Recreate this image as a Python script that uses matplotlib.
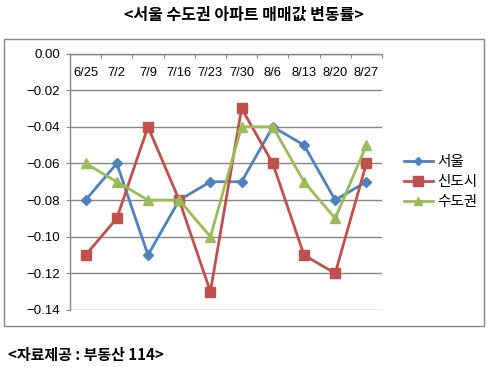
import matplotlib
matplotlib.use("Agg")
import matplotlib.pyplot as plt
from matplotlib.patches import Rectangle
from matplotlib.lines import Line2D

plt.rcParams['font.family'] = ['Noto Sans CJK KR', 'DejaVu Sans']

categories = ["6/25", "7/2", "7/9", "7/16", "7/23", "7/30", "8/6", "8/13", "8/20", "8/27"]
seoul = [-0.08, -0.06, -0.11, -0.08, -0.07, -0.07, -0.04, -0.05, -0.08, -0.07]
newtown = [-0.11, -0.09, -0.04, -0.08, -0.13, -0.03, -0.06, -0.11, -0.12, -0.06]
capital = [-0.06, -0.07, -0.08, -0.08, -0.10, -0.04, -0.04, -0.07, -0.09, -0.05]
series_names = ["서울", "신도시", "수도권"]
yticks = [0.00, -0.02, -0.04, -0.06, -0.08, -0.10, -0.12, -0.14]

colors = ["#4F81BD", "#C0504D", "#9BBB59"]
markers = ["D", "s", "^"]
msizes = [5, 7.5, 7]

W, H = 488, 367
fig = plt.figure(figsize=(W / 100, H / 100), dpi=100)

# outer chart frame
fig.patches.append(Rectangle((4 / W, 1 - 325.5 / H), 480 / W, 286.5 / H,
                             transform=fig.transFigure, fill=False,
                             edgecolor="#868686", linewidth=1.0))

ax = fig.add_axes([70 / W, 1 - 310 / H, 312 / W, 256.5 / H])
x = list(range(len(categories)))
for vals, c, m, ms, name in zip([seoul, newtown, capital], colors, markers, msizes, series_names):
    ax.plot(x, vals, color=c, marker=m, markersize=ms, linewidth=2.0, label=name, zorder=3)

ax.set_xlim(-0.5, len(categories) - 0.5)
ax.set_ylim(-0.14, 0.0)
ax.set_yticks(yticks)
ax.set_yticklabels([f"{v:.2f}".replace("-", "\u2212") if v != 0 else "0.00" for v in yticks],
                   fontsize=9.5, family=['Liberation Sans', 'DejaVu Sans'])
ax.yaxis.grid(True, color="#868686", linewidth=1.0)
ax.set_axisbelow(True)
for s in ["right", "bottom"]:
    ax.spines[s].set_visible(False)
for s in ["left", "top"]:
    ax.spines[s].set_color("#868686")
    ax.spines[s].set_linewidth(1.0)
ax.tick_params(axis='y', direction='out', length=3, color="#868686", pad=4)
ax.set_xticks([i - 0.5 for i in range(len(categories) + 1)])
ax.set_xticklabels([])
ax.tick_params(axis='x', top=True, bottom=False, direction='in', length=3,
               color="#868686", labeltop=False, labelbottom=False)
for i, lab in enumerate(categories):
    ax.annotate(lab, (i, 0.0), xytext=(0, -14), textcoords="offset points",
                ha="center", va="center", fontsize=9.3, family=['Liberation Sans', 'DejaVu Sans'])

leg_handles = [Line2D([0], [0], color=c, marker=m, markersize=ms * 0.9, linewidth=2.0)
               for c, m, ms in zip(colors, markers, msizes)]
fig.legend(leg_handles, series_names, loc="upper left",
           bbox_to_anchor=(398 / W, 1 - 149 / H), frameon=False, fontsize=10.5,
           handlelength=2.0, handletextpad=0.3, labelspacing=0.42, borderaxespad=0)

fig.text(0.5, 1 - 15 / H, "<서울 수도권 아파트 매매값 변동률>", ha="center", va="center",
         fontsize=11.5, fontweight="bold")
fig.text(8 / W, 1 - 355 / H, "<자료제공 : 부동산 114>", ha="left", va="center",
         fontsize=10.8, fontweight="bold")

fig.savefig("out.png", dpi=100)
